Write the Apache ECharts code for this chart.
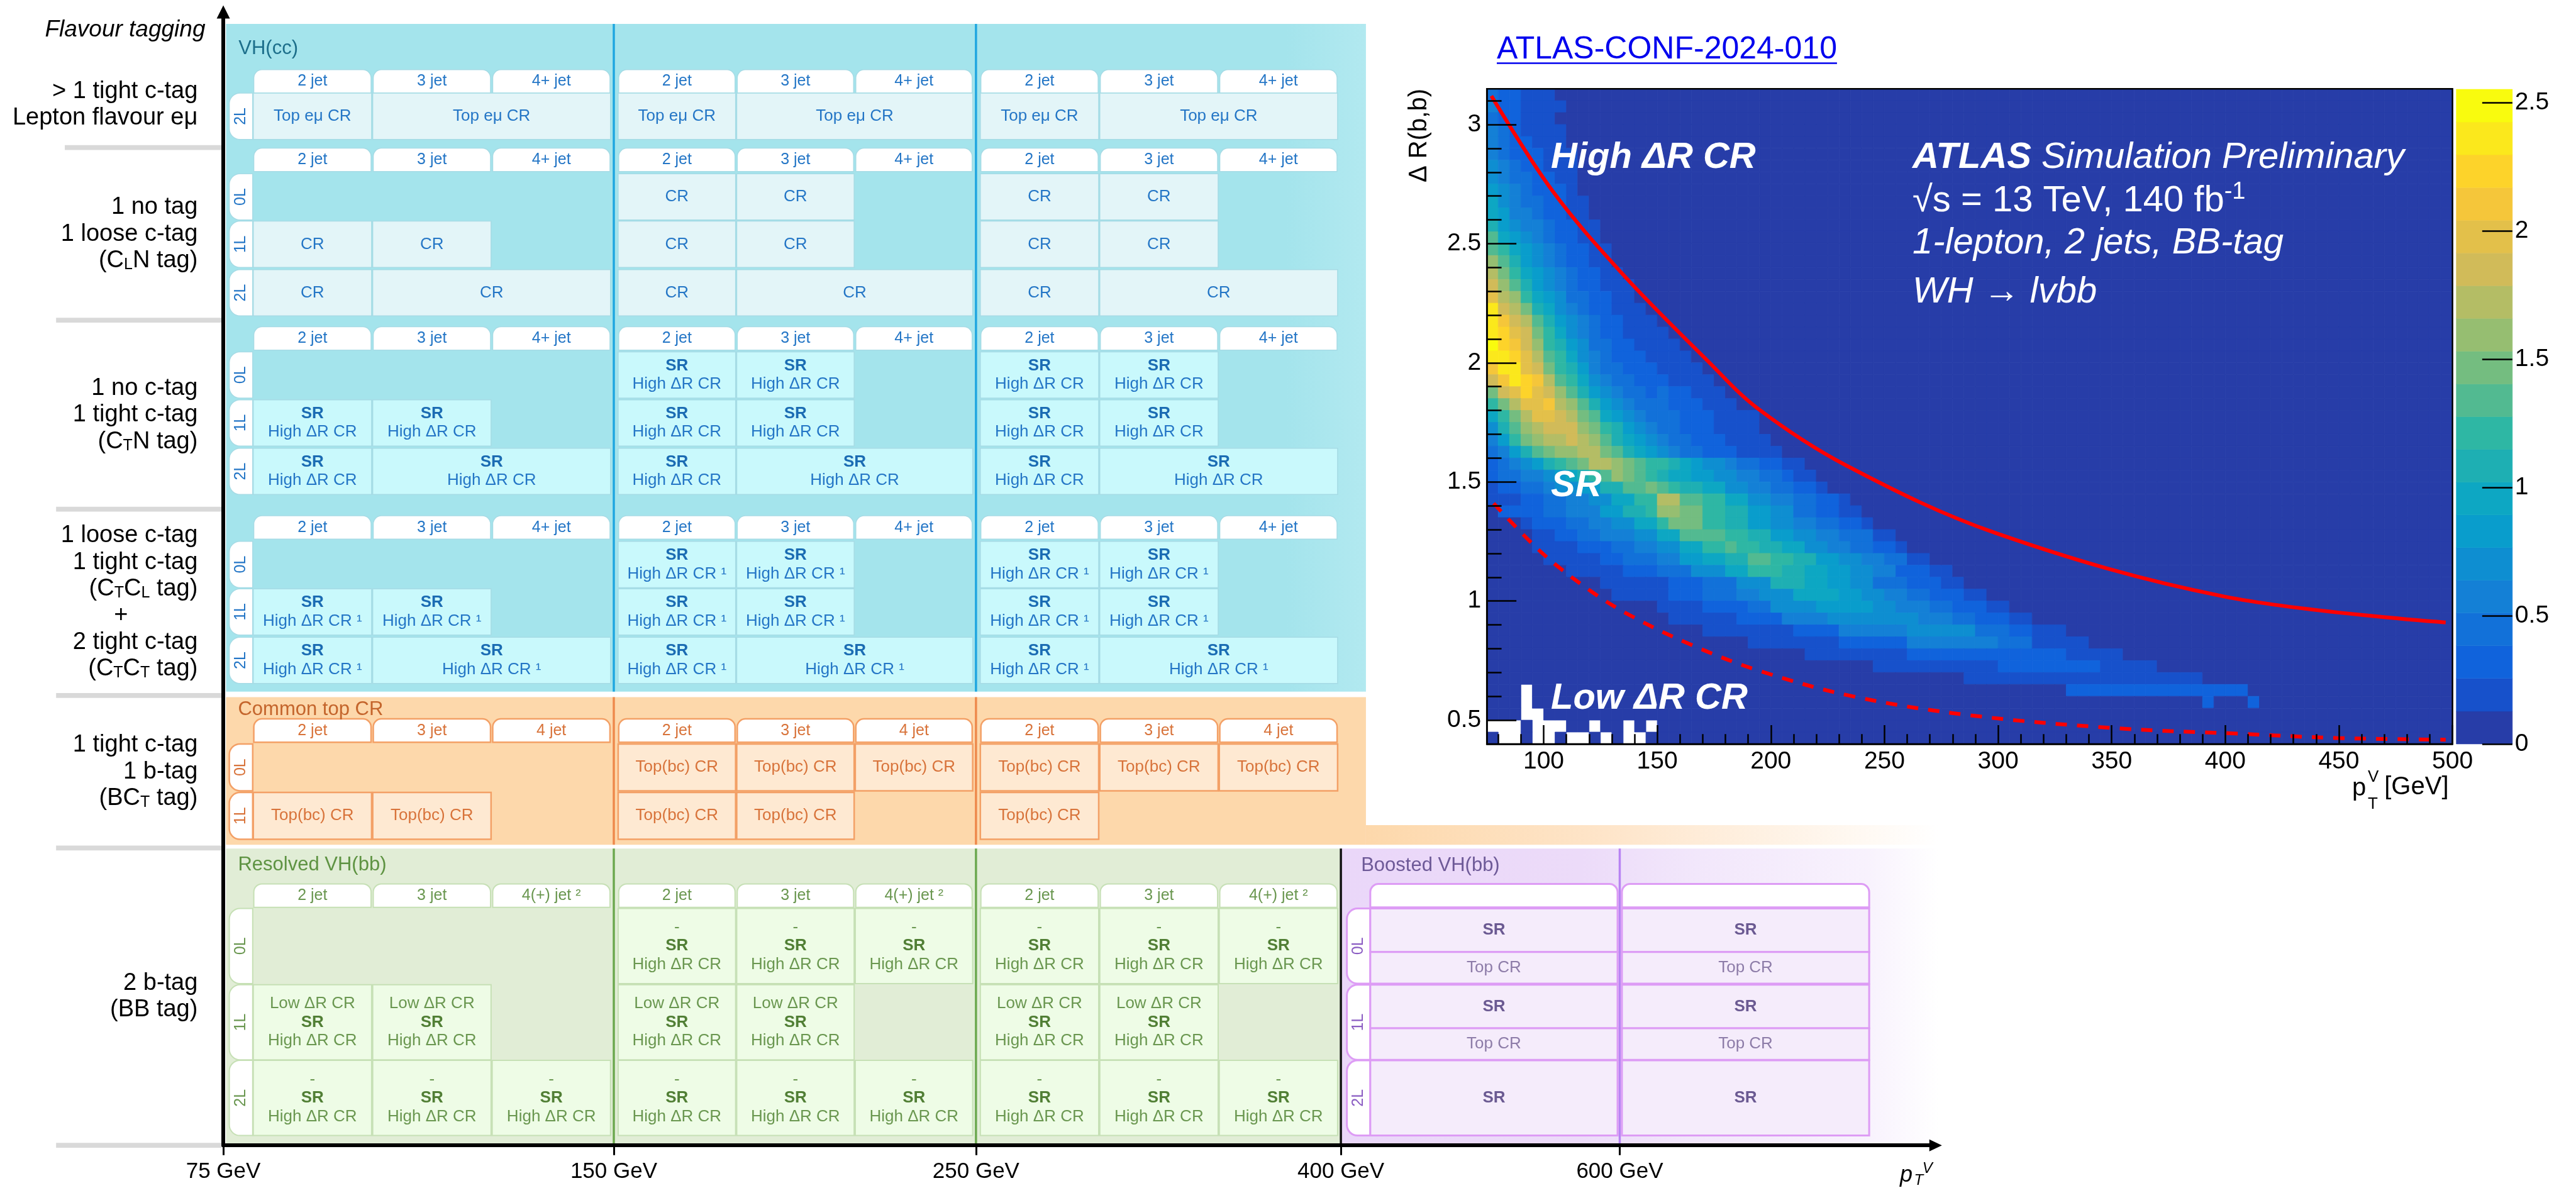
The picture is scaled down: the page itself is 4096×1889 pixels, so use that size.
<!DOCTYPE html>
<html>
<head>
<meta charset="utf-8">
<title>VH(bb/cc) analysis categories and ΔR(b,b) selection</title>
<script src="https://cdn.jsdelivr.net/npm/echarts@6.0.0/dist/echarts.min.js"></script>
<style>
  html, body { margin: 0; padding: 0; background: #ffffff; }
  #chart { width: 4096px; height: 1889px; }
</style>
</head>
<body>
<div id="chart"></div>
<script>
// ======================= category table: content =======================
const ptEdgeLabels = ['75 GeV', '150 GeV', '250 GeV', '400 GeV', '600 GeV'];
const ccJetLabels  = ['2 jet', '3 jet', '4+ jet'];
const topJetLabels = ['2 jet', '3 jet', '4 jet'];
const bbJetLabels  = ['2 jet', '3 jet', '4(+) jet ²'];

const tagLabels = [
  ['> 1 tight c-tag', 'Lepton flavour eμ'],
  ['1 no tag', '1 loose c-tag', '(C{s|L}N tag)'],
  ['1 no c-tag', '1 tight c-tag', '(C{s|T}N tag)'],
  ['1 loose c-tag', '1 tight c-tag', '(C{s|T}C{s|L} tag)', '+', '2 tight c-tag', '(C{s|T}C{s|T} tag)'],
  ['1 tight c-tag', '1 b-tag', '(BC{s|T} tag)'],
  ['2 b-tag', '(BB tag)']
];

const CR = 'CR';
const TOP_EMU = 'Top eμ CR';
const TOP_BC = 'Top(bc) CR';
const SR_HI = 'SR\nHigh ΔR CR';
const SR_HI1 = 'SR\nHigh ΔR CR ¹';
const BB_SR = '-\nSR\nHigh ΔR CR';
const BB_LOW_SR = 'Low ΔR CR\nSR\nHigh ΔR CR';

// per tagging group and lepton channel: one list per pT bin of [region, number of jet columns]
const ccCells = [
  { '2L': [[[TOP_EMU, 1], [TOP_EMU, 2]], [[TOP_EMU, 1], [TOP_EMU, 2]], [[TOP_EMU, 1], [TOP_EMU, 2]]] },
  { '0L': [[[null, 3]], [[CR, 1], [CR, 1], [null, 1]], [[CR, 1], [CR, 1], [null, 1]]],
    '1L': [[[CR, 1], [CR, 1], [null, 1]], [[CR, 1], [CR, 1], [null, 1]], [[CR, 1], [CR, 1], [null, 1]]],
    '2L': [[[CR, 1], [CR, 2]], [[CR, 1], [CR, 2]], [[CR, 1], [CR, 2]]] },
  { '0L': [[[null, 3]], [[SR_HI, 1], [SR_HI, 1], [null, 1]], [[SR_HI, 1], [SR_HI, 1], [null, 1]]],
    '1L': [[[SR_HI, 1], [SR_HI, 1], [null, 1]], [[SR_HI, 1], [SR_HI, 1], [null, 1]], [[SR_HI, 1], [SR_HI, 1], [null, 1]]],
    '2L': [[[SR_HI, 1], [SR_HI, 2]], [[SR_HI, 1], [SR_HI, 2]], [[SR_HI, 1], [SR_HI, 2]]] },
  { '0L': [[[null, 3]], [[SR_HI1, 1], [SR_HI1, 1], [null, 1]], [[SR_HI1, 1], [SR_HI1, 1], [null, 1]]],
    '1L': [[[SR_HI1, 1], [SR_HI1, 1], [null, 1]], [[SR_HI1, 1], [SR_HI1, 1], [null, 1]], [[SR_HI1, 1], [SR_HI1, 1], [null, 1]]],
    '2L': [[[SR_HI1, 1], [SR_HI1, 2]], [[SR_HI1, 1], [SR_HI1, 2]], [[SR_HI1, 1], [SR_HI1, 2]]] }
];
const topCells = {
  '0L': [[[null, 3]], [[TOP_BC, 1], [TOP_BC, 1], [TOP_BC, 1]], [[TOP_BC, 1], [TOP_BC, 1], [TOP_BC, 1]]],
  '1L': [[[TOP_BC, 1], [TOP_BC, 1], [null, 1]], [[TOP_BC, 1], [TOP_BC, 1], [null, 1]], [[TOP_BC, 1], [null, 2]]]
};
const bbCells = {
  '0L': [[[null, 3]], [[BB_SR, 1], [BB_SR, 1], [BB_SR, 1]], [[BB_SR, 1], [BB_SR, 1], [BB_SR, 1]]],
  '1L': [[[BB_LOW_SR, 1], [BB_LOW_SR, 1], [null, 1]], [[BB_LOW_SR, 1], [BB_LOW_SR, 1], [null, 1]], [[BB_LOW_SR, 1], [BB_LOW_SR, 1], [null, 1]]],
  '2L': [[[BB_SR, 1], [BB_SR, 1], [BB_SR, 1]], [[BB_SR, 1], [BB_SR, 1], [BB_SR, 1]], [[BB_SR, 1], [BB_SR, 1], [BB_SR, 1]]]
};
const boostedCells = {
  '0L': [['SR', 'Top CR'], ['SR', 'Top CR']],
  '1L': [['SR', 'Top CR'], ['SR', 'Top CR']],
  '2L': [['SR'], ['SR']]
};

// ======================= ΔR(b,b) vs pT(V) histogram =======================
const ptBinning = { lo: 75, hi: 500, width: 5 };
const dRBinning = { lo: 0.4, hi: 3.15, width: 0.05 };
const zMax = 2.553;
const zLevels = 20;
// contour level of each bin (0-9, a-j), rows from the top ΔR bin down, columns from 75 GeV;
// '.' marks an empty bin, bins past the end of a row sit at the lowest level
const contentRows = [
  '322111',
  '4221111',
  '322111',
  '4321111',
  '4322111',
  '43222111',
  '54322111',
  '54332211',
  '65432221',
  '754332211',
  '764432211',
  '8654432211',
  'a765432211',
  'a9765432211',
  'ca865432211',
  'db9765432211',
  'eca8654322111',
  'fdc9765332211',
  'iedb8754322111',
  'igeda8654322111',
  'ihfeb97543221111',
  'jhgec986533221111',
  'iihfda975432221111',
  'giifeb9864332221111',
  'egihgda9754332221111',
  'befhfeca8654332322111',
  '9bdffgdca8654333222111',
  '79bdffedba76543332221111',
  '58acdeeecb98654332221111',
  '469bcddedca87654332221111',
  '3468abccddba87654332221111',
  '2345689abddcba99876554332211',
  '2334456789acba987766554433211',
  '122334556688aaba98877554433221',
  '111223344557799ddaa9977554433221',
  '022223344466889ccbb99886655332211',
  '0001222334455779bbb998866554433221',
  '00001122334445577aaaa998866554433311',
  '000011112223344557799a998877554433221',
  '00000111112233344667788aa99886655443311',
  '00000001111122233355577999887766554422211',
  '000000000011111122233355588877665533322211',
  '00000000000111112223334455577776655443322211',
  '0000000000000001111222233555566666554443322211',
  '000000000000000011111122224444555555554443322211',
  '000000000000000000011111111222244444455555533322111',
  '00000000000000000000000111111112222224444444433311111',
  '0000000000000000000000000000' + '111111111' + '22222222222222' + '11111',
  '0000000000000000000000000000000000' + '11111111111' + '222222222' + '11111',
  '000000000000000000000000000000000000000000' + '111111111111111111111',
  '000.00000000000000000000000000000000000000000000000' + '2222222222222222',
  '000.00000000000000000000000000000000000000000000000000000000000' + '2000' + '2',
  '000..',
  '...0...00.00.0.',
  '0..0..0..0.0..'
];

// selection boundaries
const highDRCut = { pt: [77, 104, 135, 172, 194, 233, 299, 399, 497], dR: [3.12, 2.72, 2.37, 2.01, 1.81, 1.57, 1.285, 1.02, 0.91] };
const lowDRCut = { pt: [78, 99.5, 121, 138, 164, 194, 236, 288, 352, 406, 449, 497], dR: [1.41, 1.20, 1.04, 0.94, 0.82, 0.71, 0.60, 0.52, 0.466, 0.443, 0.425, 0.418] };

const ptMajorTicks = [100, 150, 200, 250, 300, 350, 400, 450, 500];
const ptMinorTicks = [80, 90, 110, 120, 130, 140, 160, 170, 180, 190, 210, 220, 230, 240, 260, 270, 280, 290, 310, 320, 330, 340, 360, 370, 380, 390, 410, 420, 430, 440, 460, 470, 480, 490];
const dRMajorTicks = [0.5, 1, 1.5, 2, 2.5, 3];
const dRMinorTicks = [0.6, 0.7, 0.8, 0.9, 1.1, 1.2, 1.3, 1.4, 1.6, 1.7, 1.8, 1.9, 2.1, 2.2, 2.3, 2.4, 2.6, 2.7, 2.8, 2.9, 3.1];
const zTicks = [0, 0.5, 1, 1.5, 2, 2.5];

// ======================= layout & style =======================
const K = 0.866;                       // drawing scale (layout values below are in design px)
const FONT = '"Liberation Sans", Arial, Helvetica, sans-serif';
const AX0 = 410, AY0 = 2103, AX1 = 3554, AY1 = 22;   // axis origin and line ends
const PT_X = [410, 1127, 1792, 2462, 2974];           // schematic position of each pT boundary
const TAB_X = [421, 464];
const BOOST_TAB_X = [2473, 2516];
const BOOST_COL_X = [[2516, 2970], [2978, 3432]];
const HEADER_H = 43;
const CC_HEADER_Y = [128, 272, 600, 947];
const CC_ROW_Y = [[171], [319, 406, 495], [646, 734, 823], [994, 1081, 1170]];
const CC_ROW_H = 85;
const TOP_HEADER_Y = 1320, TOP_ROW_Y = [1366, 1455], TOP_ROW_H = 86;
const BB_HEADER_Y = 1623, BB_ROW_Y = [1668, 1808, 1947], BB_ROW_H = 138, BOOST_SPLIT = 80;
const PANEL_Y = { cc: [44, 1270], top: [1280, 1551], bb: [1558, 2100] };
const LABEL_CENTRE_Y = [192, 430, 762, 1106, 1417, 1830];
const SEPARATOR_Y = [271, 588, 935, 1277, 1557, 2103];

const TH = {
  cc:    { panel: '#a4e4ec', cell: '#e3f5f8', sr: '#c9f9fc', border: '#a6dbe5', text: '#2476c6', bold: '#1b6cb3', divider: '#1ea6e0', title: '#1d6f8b', lw: 1.5 },
  top:   { panel: '#fdd8ab', cell: '#fee9d2', sr: '#fee9d2', border: '#f3a066', text: '#d8733a', bold: '#d8733a', divider: '#ee894b', title: '#c4652c', lw: 2.5 },
  bb:    { panel: '#e1edd6', cell: '#eefce6', sr: '#eefce6', border: '#c6e0b5', text: '#6a9750', bold: '#517f35', divider: '#6ba84e', title: '#5e9342', lw: 2 },
  boost: { cell: '#f5ecfb', sr: '#f5ecfb', border: '#dd9cf5', text: '#8d7ca8', bold: '#6b5a92', divider: '#b883f3', title: '#6e5a98', tabText: '#8a5cc2', lw: 3 }
};

const grad = stops => new echarts.graphic.LinearGradient(0, 0, 1, 0, stops.map(s => ({ offset: s[0], color: s[1] })));

// ---------- schematic shapes (positions through the diagram axes) ----------
const shapes = [];
function put(x0, y0, x1, y1, o) {
  shapes.push(Object.assign({ box: [x0 - AX0, AY0 - y0, x1 - AX0, AY0 - y1] }, o));
}
function jetEdges(b) {
  const l = PT_X[b] + (b === 0 ? 54 : 7);
  const r = PT_X[b + 1] - 5;
  const w = (r - l) / 3;
  return [l, l + w, l + 2 * w, r];
}
function cellRich(text, th) {
  return {
    text: text.split('\n').map(l => (l === 'SR' ? '{b|SR}' : '{r|' + l + '}')).join('\n'),
    font: {
      rich: {
        r: { fontSize: 26, lineHeight: 29.5, fill: th.text, fontFamily: FONT },
        b: { fontSize: 26, lineHeight: 29.5, fill: th.bold, fontWeight: 'bold', fontFamily: FONT }
      }
    }
  };
}
function headers(labels, top, th, nBins) {
  for (let b = 0; b < nBins; b++) {
    const e = jetEdges(b);
    labels.forEach((lab, j) => {
      put(e[j] + 2, top, e[j + 1] - 2, top + HEADER_H, {
        fill: '#ffffff', stroke: th.border, lw: th.lw, r: [13, 13, 0, 0],
        text: lab, font: { fontSize: 25, fill: th.text }
      });
    });
  }
}
function tab(x, y, h, lep, th, color) {
  put(x[0], y, x[1], y + h, {
    fill: '#ffffff', stroke: th.border, lw: th.lw, r: [17, 0, 0, 17],
    text: lep, rot: Math.PI / 2, font: { fontSize: 25, fill: color || th.text }
  });
}
function rowCells(bins, y, h, th) {
  bins.forEach((spans, b) => {
    const e = jetEdges(b);
    let j = 0;
    spans.forEach(([text, n]) => {
      if (text) {
        const rich = cellRich(text, th);
        put(e[j] + 1, y, e[j + n] - 1, y + h, Object.assign({
          fill: text.indexOf('SR') === 0 ? th.sr : th.cell, stroke: th.border, lw: th.lw
        }, rich));
      }
      j += n;
    });
  });
}

// panels
put(415, PANEL_Y.cc[0], 2508, PANEL_Y.cc[1], { fill: grad([[0, TH.cc.panel], [0.93, TH.cc.panel], [1, '#b2e9f0']]) });
put(415, PANEL_Y.top[0], 2508, PANEL_Y.top[1], { fill: TH.top.panel });
put(2508, 1515, 3560, PANEL_Y.top[1], { fill: grad([[0, TH.top.panel], [0.45, '#fee6cc'], [1, '#ffffff']]) });
put(415, PANEL_Y.bb[0], PT_X[3], PANEL_Y.bb[1], { fill: TH.bb.panel });
put(PT_X[3], PANEL_Y.bb[0], 3560, PANEL_Y.bb[1], { fill: grad([[0, '#ead7f9'], [0.4, '#ecdbf9'], [0.6, '#f2e7fb'], [0.88, '#f8f2fd'], [1, '#ffffff']]) });

// VH(cc) block
ccCells.forEach((g, gi) => {
  headers(ccJetLabels, CC_HEADER_Y[gi], TH.cc, 3);
  Object.keys(g).forEach((lep, li) => {
    const y = CC_ROW_Y[gi][li];
    tab(TAB_X, y, CC_ROW_H, lep, TH.cc);
    rowCells(g[lep], y, CC_ROW_H, TH.cc);
  });
});
// common top CR block
headers(topJetLabels, TOP_HEADER_Y, TH.top, 3);
Object.keys(topCells).forEach((lep, li) => {
  tab(TAB_X, TOP_ROW_Y[li], TOP_ROW_H, lep, TH.top);
  rowCells(topCells[lep], TOP_ROW_Y[li], TOP_ROW_H, TH.top);
});
// resolved VH(bb) block
headers(bbJetLabels, BB_HEADER_Y, TH.bb, 3);
Object.keys(bbCells).forEach((lep, li) => {
  tab(TAB_X, BB_ROW_Y[li], BB_ROW_H, lep, TH.bb);
  rowCells(bbCells[lep], BB_ROW_Y[li], BB_ROW_H, TH.bb);
});
// boosted VH(bb) block
BOOST_COL_X.forEach(([x0, x1]) => {
  put(x0, BB_HEADER_Y, x1, BB_HEADER_Y + HEADER_H, { fill: '#ffffff', stroke: TH.boost.border, lw: TH.boost.lw, r: [13, 13, 0, 0] });
});
Object.keys(boostedCells).forEach((lep, li) => {
  const y = BB_ROW_Y[li];
  tab(BOOST_TAB_X, y, BB_ROW_H, lep, TH.boost, TH.boost.tabText);
  boostedCells[lep].forEach((regions, ci) => {
    const [x0, x1] = BOOST_COL_X[ci];
    if (regions.length === 2) {
      put(x0, y, x1, y + BOOST_SPLIT, Object.assign({ fill: TH.boost.cell, stroke: TH.boost.border, lw: TH.boost.lw }, cellRich(regions[0], TH.boost)));
      put(x0, y + BOOST_SPLIT, x1, y + BB_ROW_H, Object.assign({ fill: TH.boost.cell, stroke: TH.boost.border, lw: TH.boost.lw }, cellRich(regions[1], TH.boost)));
    } else {
      put(x0, y, x1, y + BB_ROW_H, Object.assign({ fill: TH.boost.cell, stroke: TH.boost.border, lw: TH.boost.lw }, cellRich(regions[0], TH.boost)));
    }
  });
});
// pT boundaries inside the blocks
[1, 2].forEach(b => {
  const x = PT_X[b];
  put(x - 2, PANEL_Y.cc[0], x + 2, PANEL_Y.cc[1], { fill: TH.cc.divider });
  put(x - 2, PANEL_Y.top[0], x + 2, PANEL_Y.top[1], { fill: TH.top.divider });
  put(x - 2, PANEL_Y.bb[0], x + 2, PANEL_Y.bb[1], { fill: TH.bb.divider });
});
put(PT_X[3] - 2, PANEL_Y.bb[0], PT_X[3] + 2, PANEL_Y.bb[1], { fill: '#111111' });
put(PT_X[4] - 2, PANEL_Y.bb[0], PT_X[4] + 2, PANEL_Y.bb[1], { fill: TH.boost.divider });

function drawShape(params, api) {
  const s = shapes[params.dataIndex];
  const p = api.coord([api.value(0), api.value(1)]);
  const q = api.coord([api.value(2), api.value(3)]);
  const x = Math.min(p[0], q[0]), y = Math.min(p[1], q[1]);
  const w = Math.abs(q[0] - p[0]), h = Math.abs(q[1] - p[1]);
  const kids = [{
    type: 'rect', shape: { x, y, width: w, height: h, r: s.r || 0 },
    style: { fill: s.fill || 'none', stroke: s.stroke || 'none', lineWidth: s.lw || 0 }
  }];
  if (s.text) {
    kids.push({
      type: 'text', x: x + w / 2, y: y + h / 2, rotation: s.rot || 0,
      style: Object.assign({ text: s.text, align: 'center', verticalAlign: 'middle', fontFamily: FONT }, s.font || {})
    });
  }
  return { type: 'group', children: kids };
}

// ---------- histogram cells ----------
const LEVEL_CHARS = '0123456789abcdefghij';
const zStep = zMax / zLevels;
const nPtBins = Math.round((ptBinning.hi - ptBinning.lo) / ptBinning.width);
const histCells = [];
contentRows.forEach((row, i) => {
  const dRLo = Math.round((dRBinning.hi - (i + 1) * dRBinning.width) * 100) / 100;
  const full = row.padEnd(nPtBins, '0');
  for (let c = 0; c < nPtBins; c++) {
    const ch = full[c];
    if (ch === '.') continue;
    const level = LEVEL_CHARS.indexOf(ch);
    histCells.push([ptBinning.lo + c * ptBinning.width, dRLo, (level + 0.5) * zStep]);
  }
});

// ROOT kBird palette
const birdStops = [0, 0.125, 0.25, 0.375, 0.5, 0.625, 0.75, 0.875, 1];
const birdR = [0.2082, 0.0592, 0.0780, 0.0232, 0.1802, 0.5301, 0.8186, 0.9956, 0.9764];
const birdG = [0.1664, 0.3599, 0.5041, 0.6419, 0.7178, 0.7492, 0.7328, 0.7862, 0.9832];
const birdB = [0.5293, 0.8684, 0.8385, 0.7914, 0.6425, 0.4662, 0.3499, 0.1968, 0.0539];
function bird(f) {
  let k = 0;
  while (k < birdStops.length - 2 && f > birdStops[k + 1]) k++;
  const t = (f - birdStops[k]) / (birdStops[k + 1] - birdStops[k]);
  const ch = a => Math.round(255 * (a[k] + (a[k + 1] - a[k]) * t));
  return 'rgb(' + ch(birdR) + ',' + ch(birdG) + ',' + ch(birdB) + ')';
}
const levelColors = [];
for (let i = 0; i < zLevels; i++) levelColors.push(bird(Math.floor((i + 0.99) * 255 / zLevels) / 254));
const levelOf = z => Math.max(0, Math.min(zLevels - 1, Math.floor(z / zStep)));

function drawBin(params, api) {
  const x0 = api.value(0), y0 = api.value(1), z = api.value(2);
  const p = api.coord([x0, y0 + dRBinning.width]);
  const q = api.coord([x0 + ptBinning.width, y0]);
  const col = levelColors[levelOf(z)];
  return { type: 'rect', shape: { x: p[0], y: p[1], width: q[0] - p[0], height: q[1] - p[1] },
           style: { fill: col, stroke: col, lineWidth: 0.8 } };
}
const barLevels = [];
for (let i = 0; i < zLevels; i++) barLevels.push([i * zStep, (i + 1) * zStep, i]);
function drawBand(params, api) {
  const p = api.coord([0, api.value(1)]);
  const q = api.coord([1, api.value(0)]);
  const col = levelColors[api.value(2)];
  return { type: 'rect', shape: { x: p[0], y: p[1], width: q[0] - p[0], height: q[1] - p[1] },
           style: { fill: col, stroke: col, lineWidth: 0.6 } };
}

// ---------- free text ----------
const elements = [];
function txt(x, y, text, st, extra) {
  elements.push(Object.assign({
    type: 'text', x, y, z: 100, silent: true,
    style: Object.assign({ text, fontFamily: FONT, fill: '#000000', align: 'left', verticalAlign: 'middle' }, st)
  }, extra || {}));
}
// left separators
SEPARATOR_Y.forEach((y, i) => {
  elements.push({ type: 'rect', z: 1, silent: true,
    shape: { x: (i === 0 ? 119 : 103) * K, y: (y - 4.5) * K, width: (i === 0 ? 288 : 304) * K, height: 9 * K },
    style: { fill: '#d9d9d9' } });
});
txt(377 * K, 55 * K, 'Flavour tagging', { align: 'right', fontSize: 37, fontStyle: 'italic' });
tagLabels.forEach((lines, g) => {
  lines.forEach((t, k) => {
    const y = (LABEL_CENTRE_Y[g] + (k - (lines.length - 1) / 2) * 49) * K;
    const plus = t === '+';
    txt((plus ? 222 : 363) * K, y, t, {
      align: plus ? 'center' : 'right', fontSize: 38,
      rich: { s: { fontSize: 25, verticalAlign: 'bottom', fontFamily: FONT, fill: '#000000' } }
    });
  });
});
txt(438 * K, 89 * K, 'VH(cc)', { fontSize: 31, fill: TH.cc.title });
txt(437 * K, 1303 * K, 'Common top CR', { fontSize: 31, fill: TH.top.title });
txt(437 * K, 1588 * K, 'Resolved VH(bb)', { fontSize: 31, fill: TH.bb.title });
txt(2499 * K, 1590 * K, 'Boosted VH(bb)', { fontSize: 31, fill: TH.boost.title });
// pT(V) axis title of the schematic
txt(3500 * K, 2158 * K, 'p', { align: 'center', fontSize: 36, fontStyle: 'italic' });
txt(3523 * K, 2168 * K, 'T', { align: 'center', fontSize: 24, fontStyle: 'italic' });
txt(3539 * K, 2146 * K, 'V', { align: 'center', fontSize: 24, fontStyle: 'italic' });

// histogram annotations
const confText = 'ATLAS-CONF-2024-010';
const mctx = document.createElement('canvas').getContext('2d');
mctx.font = '50px ' + FONT;
const confW = mctx.measureText(confText).width;
txt(2380, 79.5, confText, { fontSize: 50, fill: '#0000ee' });
elements.push({ type: 'line', z: 100, silent: true, shape: { x1: 2380, y1: 100.5, x2: 2380 + confW, y2: 100.5 }, style: { stroke: '#0000ee', lineWidth: 2.5 } });
const W = '#ffffff';
txt(2466, 251, 'High ΔR CR', { fontSize: 58, fontWeight: 'bold', fontStyle: 'italic', fill: W });
txt(3041, 251, '{b|ATLAS} {i|Simulation Preliminary}', { fontSize: 58, fontStyle: 'italic', fill: W,
  rich: { b: { fontSize: 58, fontWeight: 'bold', fontStyle: 'italic', fill: W, fontFamily: FONT },
          i: { fontSize: 58, fontStyle: 'italic', fill: W, fontFamily: FONT } } });
txt(3041, 320, '{n|√s = 13 TeV, 140 fb}{u|-1}', { fontSize: 58, fill: W,
  rich: { n: { fontSize: 58, fill: W, fontFamily: FONT, lineHeight: 66 },
          u: { fontSize: 38, fill: W, fontFamily: FONT, verticalAlign: 'top', lineHeight: 38 } } });
txt(3041, 387, '1-lepton, 2 jets, BB-tag', { fontSize: 58, fontStyle: 'italic', fill: W });
txt(3041, 465, 'WH → lvbb', { fontSize: 58, fontStyle: 'italic', fill: W });
txt(2466, 773, 'SR', { fontSize: 58, fontWeight: 'bold', fontStyle: 'italic', fill: W });
txt(2466, 1111, 'Low ΔR CR', { fontSize: 58, fontWeight: 'bold', fontStyle: 'italic', fill: W });
// histogram axis titles
txt(2257, 141, 'Δ R(b,b)', { align: 'right', fontSize: 40 }, { rotation: Math.PI / 2 });
txt(3893.5, 1252, '[GeV]', { align: 'right', fontSize: 40 });
txt(3740, 1254, 'p', { fontSize: 40 });
txt(3765, 1236, 'V', { fontSize: 26 });
txt(3765, 1279, 'T', { fontSize: 26 });

// ======================= chart =======================
const HX = 2730 * K, HY = 163 * K, HW = 1773 * K, HH = 1203 * K;
const tickX = PT_X.map(x => x - AX0);
const blackLine = w => ({ color: '#000000', width: w });

const option = {
  animation: false,
  backgroundColor: '#ffffff',
  textStyle: { fontFamily: FONT },
  grid: [
    { left: AX0 * K, top: AY1 * K, width: (AX1 - AX0) * K, height: (AY0 - AY1) * K, show: false, containLabel: false, outerBoundsMode: 'none' },
    { left: HX, top: HY, width: HW, height: HH, show: true, borderColor: '#000000', borderWidth: 2.5, backgroundColor: 'transparent', z: 10, containLabel: false, outerBoundsMode: 'none' },
    { left: HX, top: HY, width: HW, height: HH, show: false, containLabel: false, outerBoundsMode: 'none' },
    { left: 4510 * K, top: 164 * K, width: 103 * K, height: 1202 * K, show: false, containLabel: false, outerBoundsMode: 'none' }
  ],
  xAxis: [
    { gridIndex: 0, type: 'value', min: 0, max: AX1 - AX0, z: 10,
      axisLine: { show: true, onZero: false, symbol: ['none', 'triangle'], symbolSize: [19, 20], lineStyle: blackLine(6) },
      axisTick: { show: true, customValues: tickX, length: 15.6, lineStyle: blackLine(3) },
      axisLabel: { show: true, customValues: tickX, margin: 25, fontSize: 35, color: '#000000', fontFamily: FONT,
                   formatter: v => ptEdgeLabels[tickX.indexOf(v)] || '' },
      splitLine: { show: false } },
    { gridIndex: 1, type: 'value', min: ptBinning.lo, max: ptBinning.hi, z: 10,
      axisLine: { show: true, onZero: false, lineStyle: blackLine(2.5) },
      axisTick: { show: true, inside: true, customValues: ptMajorTicks, length: 30, lineStyle: blackLine(2.5) },
      axisLabel: { show: true, customValues: ptMajorTicks, margin: 9, fontSize: 39, color: '#000000', fontFamily: FONT },
      splitLine: { show: false } },
    { gridIndex: 2, type: 'value', min: ptBinning.lo, max: ptBinning.hi, z: 10,
      axisLine: { show: false },
      axisTick: { show: true, inside: true, customValues: ptMinorTicks, length: 15.6, lineStyle: blackLine(2.5) },
      axisLabel: { show: false }, splitLine: { show: false } },
    { gridIndex: 3, type: 'value', min: 0, max: 1, show: false }
  ],
  yAxis: [
    { gridIndex: 0, type: 'value', min: 0, max: AY0 - AY1, z: 10,
      axisLine: { show: true, onZero: false, symbol: ['none', 'triangle'], symbolSize: [21, 21], lineStyle: blackLine(6) },
      axisTick: { show: false }, axisLabel: { show: false }, splitLine: { show: false } },
    { gridIndex: 1, type: 'value', min: dRBinning.lo, max: dRBinning.hi, z: 10,
      axisLine: { show: true, onZero: false, lineStyle: blackLine(2.5) },
      axisTick: { show: true, inside: true, customValues: dRMajorTicks, length: 47, lineStyle: blackLine(2.5) },
      axisLabel: { show: true, customValues: dRMajorTicks, margin: 9, fontSize: 39, color: '#000000', fontFamily: FONT },
      splitLine: { show: false } },
    { gridIndex: 2, type: 'value', min: dRBinning.lo, max: dRBinning.hi, z: 10,
      axisLine: { show: false },
      axisTick: { show: true, inside: true, customValues: dRMinorTicks, length: 23.4, lineStyle: blackLine(2.5) },
      axisLabel: { show: false }, splitLine: { show: false } },
    { gridIndex: 3, type: 'value', position: 'right', min: 0, max: zMax, z: 10,
      axisLine: { show: false, onZero: false },
      axisTick: { show: true, inside: true, customValues: zTicks, length: 48, lineStyle: blackLine(2.5) },
      axisLabel: { show: true, customValues: zTicks, margin: 4, fontSize: 39, color: '#000000', fontFamily: FONT },
      splitLine: { show: false } }
  ],
  series: [
    { type: 'custom', name: 'categories', xAxisIndex: 0, yAxisIndex: 0, data: shapes.map(s => s.box),
      encode: { x: [0, 2], y: [1, 3] }, renderItem: drawShape, silent: true, clip: false, z: 2, progressive: 0 },
    { type: 'custom', name: 'ΔR(b,b) vs pT', xAxisIndex: 1, yAxisIndex: 1, data: histCells,
      encode: { x: 0, y: 1 }, renderItem: drawBin, silent: true, clip: true, z: 2, progressive: 0 },
    { type: 'line', name: 'High ΔR boundary', xAxisIndex: 1, yAxisIndex: 1, z: 5, clip: true,
      data: highDRCut.pt.map((p, i) => [p, highDRCut.dR[i]]), smooth: 0.35, symbol: 'none', silent: true,
      lineStyle: { color: '#ff0000', width: 6 } },
    { type: 'line', name: 'Low ΔR boundary', xAxisIndex: 1, yAxisIndex: 1, z: 5, clip: true,
      data: lowDRCut.pt.map((p, i) => [p, lowDRCut.dR[i]]), smooth: 0.35, symbol: 'none', silent: true,
      lineStyle: { color: '#ff0000', width: 6, type: [18, 16] } },
    { type: 'custom', name: 'colour scale', xAxisIndex: 3, yAxisIndex: 3, data: barLevels,
      renderItem: drawBand, silent: true, clip: false, z: 2, progressive: 0 }
  ],
  graphic: { elements }
};

const chart = echarts.init(document.getElementById('chart'), null, { renderer: 'canvas', width: 4096, height: 1889 });
chart.setOption(option);
</script>
</body>
</html>
